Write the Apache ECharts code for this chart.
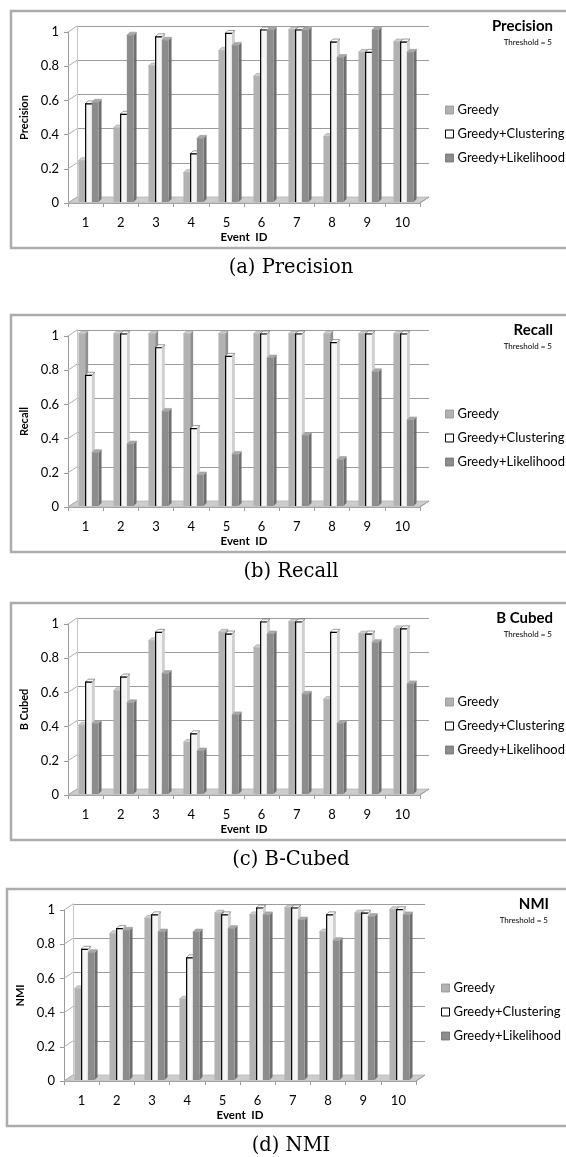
<!DOCTYPE html>
<html><head><meta charset="utf-8">
<script src="https://cdn.jsdelivr.net/npm/echarts@6/dist/echarts.min.js"></script>
<style>html,body{margin:0;padding:0;background:#fff}#c{width:566px;height:1157px}</style>
</head><body><div id="c"></div>
<script>
// ---------------- data ----------------
const categories = ['1','2','3','4','5','6','7','8','9','10'];
const seriesNames = ['Greedy','Greedy+Clustering','Greedy+Likelihood'];
const yTickLabels = ['0','0.2','0.4','0.6','0.8','1'];
const thresholdText = 'Threshold = 5';
const xAxisTitle = 'Event  ID';

const precisionGreedy     = [0.24,0.43,0.79,0.17,0.88,0.73,1.00,0.38,0.87,0.93];
const precisionClustering = [0.57,0.51,0.96,0.28,0.98,1.00,1.00,0.93,0.87,0.93];
const precisionLikelihood = [0.58,0.97,0.94,0.37,0.91,1.00,1.00,0.84,1.00,0.87];

const recallGreedy     = [1.00,1.00,1.00,1.00,1.00,1.00,1.00,1.00,1.00,1.00];
const recallClustering = [0.76,1.00,0.92,0.45,0.87,1.00,1.00,0.95,1.00,1.00];
const recallLikelihood = [0.31,0.36,0.55,0.18,0.30,0.86,0.41,0.27,0.78,0.50];

const bcubedGreedy     = [0.40,0.60,0.89,0.30,0.94,0.85,1.00,0.55,0.93,0.96];
const bcubedClustering = [0.65,0.68,0.94,0.35,0.93,1.00,1.00,0.94,0.93,0.96];
const bcubedLikelihood = [0.41,0.53,0.70,0.25,0.46,0.93,0.58,0.41,0.88,0.64];

const nmiGreedy     = [0.53,0.85,0.94,0.47,0.97,0.96,1.00,0.86,0.97,0.99];
const nmiClustering = [0.76,0.88,0.96,0.71,0.96,1.00,1.00,0.96,0.97,0.99];
const nmiLikelihood = [0.74,0.87,0.86,0.86,0.88,0.96,0.93,0.81,0.95,0.96];

const panelTitles  = ['Precision','Recall','B Cubed','NMI'];
const axisTitles   = ['Precision','Recall','B Cubed','NMI'];
const captions     = ['(a) Precision','(b) Recall','(c) B-Cubed','(d) NMI'];
const panelData = [
  [precisionGreedy, precisionClustering, precisionLikelihood],
  [recallGreedy, recallClustering, recallLikelihood],
  [bcubedGreedy, bcubedClustering, bcubedLikelihood],
  [nmiGreedy, nmiClustering, nmiLikelihood]
];

// ---------------- layout / style ----------------
const PANEL_TOP = [11, 315, 603, 889];
const PANEL_DX  = [0, 0, 0, -4];
const BAR_W = 6.7, DEPTH_X = 3, DEPTH_Y = -3;
const WALL_DX = 9, WALL_DY = -6;
const FONT = 'Lato';
const styles = [
  {front:'#b2b2b2', side:'#8f8f8f', top:'#cfcfcf', edge:null},
  {front:'#f6f6f6', side:'#cfcfcf', top:'#ffffff', edge:'#000000'},
  {front:'#8c8c8c', side:'#6f6f6f', top:'#a9a9a9', edge:null}
];

function makeRender(k) {
  const st = styles[k];
  return function (params, api) {
    const ci = api.value(0), v = api.value(1);
    const p0 = api.coord([ci, 0]);
    const p1 = api.coord([ci, v]);
    const w = BAR_W;
    const x = p0[0] + (k - 1.5) * w + 1;
    const yb = p0[1], yt = p1[1];
    const dx = DEPTH_X, dy = DEPTH_Y;
    const ch = [
      {type:'polygon', shape:{points:[[x+w,yt],[x+w+dx,yt+dy],[x+w+dx,yb+dy],[x+w,yb]]}, style:{fill:st.side}},
      {type:'polygon', shape:{points:[[x,yt],[x+dx,yt+dy],[x+w+dx,yt+dy],[x+w,yt]]}, style:{fill:st.top, stroke: st.edge ? '#555' : '#9a9a9a', lineWidth:0.6}},
      {type:'rect', shape:{x:x, y:yt, width:w, height:yb-yt}, style:{fill:st.front}}
    ];
    if (st.edge) {
      ch.push({type:'polyline', shape:{points:[[x+0.5,yb],[x+0.5,yt],[x+w,yt]]}, style:{stroke:st.edge, lineWidth:1.2, fill:null}});
    }
    return {type:'group', children: ch};
  };
}

const grids = [], xAxes = [], yAxes = [], series = [], legends = [], graphics = [];

PANEL_TOP.forEach((T, i) => {
  const dxp = PANEL_DX[i];
  const gLabel = grids.length;
  // front axis grid (labels / ticks)
  grids.push({left: 68 + dxp, top: T + 21, width: 352, height: 171});
  // back wall grid (gridlines)
  grids.push({left: 68 + dxp + WALL_DX, top: T + 21 + WALL_DY, width: 352, height: 171});
  // bar grid
  grids.push({left: 70 + dxp, top: T + 19, width: 350, height: 172});

  xAxes.push({
    gridIndex: gLabel, type:'category', data: categories, boundaryGap: true,
    axisLine:{show:true, lineStyle:{color:'#9a9a9a', width:1}},
    axisTick:{show:true, length:4, lineStyle:{color:'#9a9a9a'}},
    axisLabel:{fontFamily:FONT, fontSize:13, color:'#000', margin:13},
    name: xAxisTitle, nameLocation:'middle', nameGap: 28,
    nameTextStyle:{fontFamily:FONT, fontSize:11.5, fontWeight:'bold', color:'#000'}
  });
  yAxes.push({
    gridIndex: gLabel, type:'value', min:0, max:1, interval:0.2,
    axisLine:{show:true, lineStyle:{color:'#9a9a9a', width:1}},
    axisTick:{show:true, length:4, lineStyle:{color:'#9a9a9a'}},
    splitLine:{show:false},
    axisLabel:{fontFamily:FONT, fontSize:13, color:'#000', margin:9, padding:[7,0,0,0],
      formatter: (v) => yTickLabels[Math.round(v / 0.2)]},
    name: axisTitles[i], nameLocation:'middle', nameGap: 32, nameRotate: 90,
    nameTextStyle:{fontFamily:FONT, fontSize:11, fontWeight:'bold', color:'#000'}
  });
  xAxes.push({gridIndex: gLabel + 1, type:'category', data: categories, show:false});
  yAxes.push({
    gridIndex: gLabel + 1, type:'value', min:0, max:1, interval:0.2,
    axisLine:{show:true, lineStyle:{color:'#c8c8c8', width:1}},
    axisTick:{show:false}, axisLabel:{show:false},
    splitLine:{show:true, lineStyle:{color:'#9c9c9c', width:1}}
  });
  xAxes.push({gridIndex: gLabel + 2, type:'category', data: categories, show:false});
  yAxes.push({gridIndex: gLabel + 2, type:'value', min:0, max:1, show:false});

  // floor + side wall diagonals (decoration)
  const fx0 = 68 + dxp, fx1 = 420 + dxp, fy = T + 192;
  graphics.push({type:'polygon', z: 1, shape:{points:[[fx0,fy],[fx0+WALL_DX,fy+WALL_DY],[fx1+WALL_DX,fy+WALL_DY],[fx1,fy]]},
    style:{fill:'#cdcdcd', stroke:'#b5b5b5', lineWidth:0.8}});
  for (let t = 0; t <= 5; t++) {
    const ty = T + 21 + 171 * (1 - t / 5);
    graphics.push({type:'line', z: 1, shape:{x1:fx0, y1:ty, x2:fx0+WALL_DX, y2:ty+WALL_DY}, style:{stroke:'#b0b0b0', lineWidth:1}});
  }
  graphics.push({type:'line', z: 1, shape:{x1:fx1, y1:fy, x2:fx1+WALL_DX, y2:fy+WALL_DY}, style:{stroke:'#9a9a9a', lineWidth:1}});

  // frame
  graphics.push({type:'rect', z: 0, shape:{x: 11 + dxp, y: T, width: 566, height: 237},
    style:{fill:null, stroke:'#acacac', lineWidth:2.5}});
  // titles
  graphics.push({type:'text', z: 5, style:{x: 553 + dxp, y: T + 15, text: panelTitles[i], align:'right', verticalAlign:'middle',
    font: 'bold 15px ' + FONT, fill:'#000'}});
  graphics.push({type:'text', z: 5, style:{x: 552 + dxp, y: T + 31, text: thresholdText, align:'right', verticalAlign:'middle',
    font: '8px ' + FONT, fill:'#000'}});
  // caption
  graphics.push({type:'text', z: 5, style:{x: 291, y: T + 257, text: captions[i], align:'center', verticalAlign:'middle',
    font: '19.5px "DejaVu Serif"', fill:'#000'}});

  legends.push({
    orient:'vertical', left: 440 + dxp, top: T + 87, icon:'rect', itemWidth: 8, itemHeight: 8, itemGap: 10,
    selectedMode: false,
    textStyle:{fontFamily:FONT, fontSize:13, color:'#000', lineHeight:14, padding:[0,0,0,-1]},
    data: [
      {name: seriesNames[0], itemStyle:{color:'#b2b2b2', borderColor:'#909090', borderWidth:0.8}},
      {name: seriesNames[1], itemStyle:{color:'#ffffff', borderColor:'#000000', borderWidth:1}},
      {name: seriesNames[2], itemStyle:{color:'#8c8c8c', borderColor:'#6f6f6f', borderWidth:0.8}}
    ]
  });

  panelData[i].forEach((vals, k) => {
    series.push({
      type:'custom', name: seriesNames[k],
      xAxisIndex: gLabel + 2, yAxisIndex: gLabel + 2,
      itemStyle:{color: styles[k].front},
      renderItem: makeRender(k),
      data: vals.map((v, j) => [j, v]),
      z: 3 + k, silent: true, animation: false
    });
  });
});

const chart = echarts.init(document.getElementById('c'), null, {renderer:'canvas'});
chart.setOption({
  animation: false,
  backgroundColor: '#ffffff',
  grid: grids, xAxis: xAxes, yAxis: yAxes,
  legend: legends, series: series, graphic: graphics
});
</script></body></html>
